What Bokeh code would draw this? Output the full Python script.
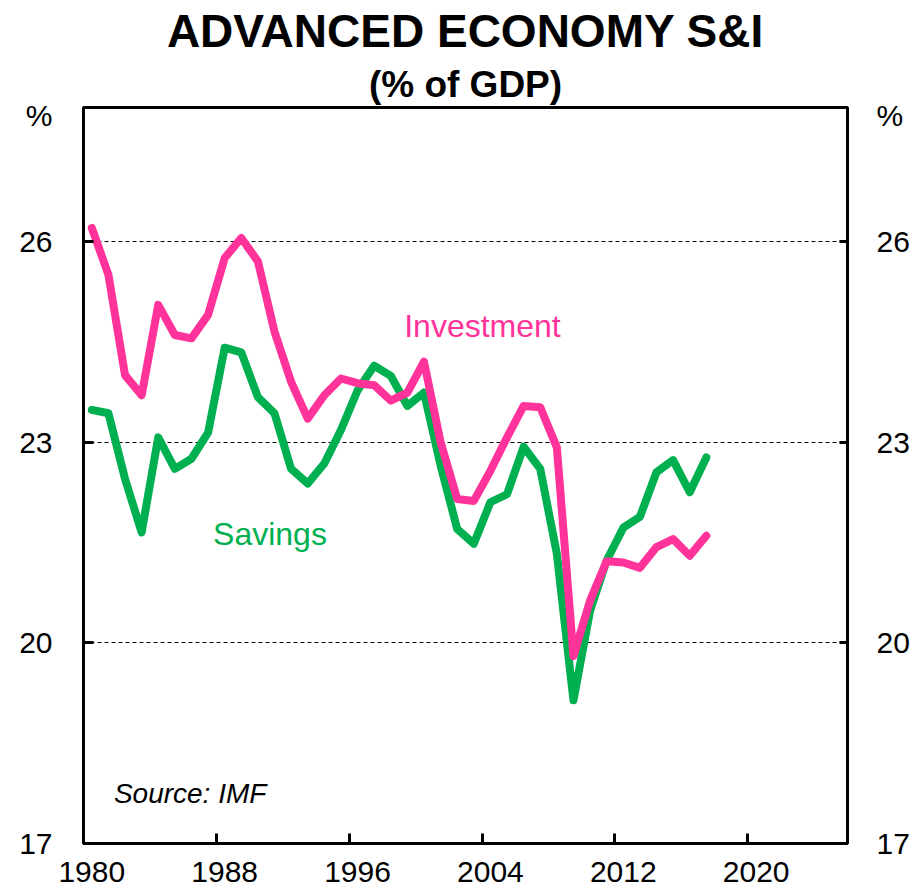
from bokeh.plotting import figure
from bokeh.models import Range1d, LinearAxis, FixedTicker, Title, Label, Grid
from bokeh.embed import file_html
from bokeh.resources import INLINE

# ---- data ----
years = list(range(1980, 2018))
investment = [26.20, 25.50, 24.00, 23.70, 25.05, 24.60, 24.55, 24.90, 25.75, 26.05,
              25.70, 24.65, 23.90, 23.35, 23.70, 23.95, 23.88, 23.85, 23.62, 23.74,
              24.20, 23.00, 22.15, 22.12, 22.57, 23.07, 23.54, 23.52, 22.92, 19.80,
              20.63, 21.22, 21.20, 21.12, 21.43, 21.55, 21.30, 21.60]
savings = [23.48, 23.43, 22.45, 21.65, 23.07, 22.60, 22.75, 23.14, 24.41, 24.34,
           23.67, 23.43, 22.60, 22.38, 22.68, 23.18, 23.77, 24.14, 23.99, 23.54,
           23.74, 22.65, 21.70, 21.48, 22.10, 22.22, 22.93, 22.60, 21.33, 19.14,
           20.48, 21.23, 21.72, 21.88, 22.55, 22.73, 22.25, 22.77]
x_tick_years = [1980, 1988, 1996, 2004, 2012, 2020]
x_tick_labels = ["1980", "1988", "1996", "2004", "2012", "2020"]
y_ticks = [17, 20, 23, 26]
grid_levels = [20, 23, 26]
unit_label = "%"
unit_label_level = 27.88

FONT = "Liberation Sans"
PINK = "#FF3399"
GREEN = "#00B050"
TICK = "black"

# annual values plotted at mid-year
xs = [y + 0.5 for y in years]

p = figure(width=916, height=896, output_backend="svg", toolbar_location=None,
           x_range=Range1d(1980, 2026), y_range=Range1d(17, 28),
           x_axis_location=None, y_axis_location=None, title_location=None,
           min_border_left=83, min_border_right=69, min_border_top=106, min_border_bottom=53)
p.outline_line_color = "black"
p.outline_line_width = 3
p.background_fill_color = "white"
p.border_fill_color = "white"
for g in list(p.grid):
    g.visible = False

# dashed horizontal grid
grid = Grid(dimension=1, ticker=FixedTicker(ticks=grid_levels),
            grid_line_color="black", grid_line_width=1, grid_line_dash="4 3")
p.add_layout(grid)

# bottom axis: labels centred on the year, tick marks at year boundaries
x_axis = LinearAxis(
    ticker=FixedTicker(ticks=[y + 0.5 for y in x_tick_years], minor_ticks=x_tick_years),
    major_label_overrides={y + 0.5: lab for y, lab in zip(x_tick_years, x_tick_labels)},
    axis_line_width=3, axis_line_color="black",
    major_tick_in=0, major_tick_out=0,
    minor_tick_in=10, minor_tick_out=0, minor_tick_line_width=3, minor_tick_line_color=TICK,
    major_label_standoff=18, major_label_text_font=FONT,
    major_label_text_font_size="30px", major_label_text_color="black")
p.add_layout(x_axis, "below")

# left and right axes; "%" unit label sits at the top of each
for side, tin, stand in (("left", 10, 31), ("right", 8, 29)):
    ax = LinearAxis(
        ticker=FixedTicker(ticks=y_ticks + [unit_label_level], minor_ticks=y_ticks),
        major_label_overrides={unit_label_level: unit_label},
        axis_line_width=3, axis_line_color="black",
        major_tick_in=0, major_tick_out=0,
        minor_tick_in=tin, minor_tick_out=0, minor_tick_line_width=3, minor_tick_line_color=TICK,
        major_label_standoff=stand, major_label_text_font=FONT,
        major_label_text_font_size="30px", major_label_text_color="black")
    p.add_layout(ax, side)

# lines
p.line(xs, savings, line_color=GREEN, line_width=8, line_join="round", line_cap="round")
p.line(xs, investment, line_color=PINK, line_width=8, line_join="round", line_cap="round")

# titles
p.add_layout(Title(text="(% of GDP)", align="center", text_font=FONT, text_font_size="37px",
                   text_font_style="bold", text_color="black", standoff=6), "above")
p.add_layout(Title(text="ADVANCED ECONOMY S&I", align="center", text_font=FONT,
                   text_font_size="46px", text_font_style="bold", text_color="black",
                   standoff=4), "above")

# annotations
p.add_layout(Label(x=1999.31, y=24.74, text="Investment", text_align="left",
                   text_baseline="middle", text_font=FONT, text_font_size="32px",
                   text_color=PINK))
p.add_layout(Label(x=1987.8, y=21.63, text="Savings", text_align="left",
                   text_baseline="middle", text_font=FONT, text_font_size="32px",
                   text_color=GREEN))
p.add_layout(Label(x=1981.83, y=17.75, text="Source: IMF", text_align="left",
                   text_baseline="middle", text_font=FONT, text_font_size="28px",
                   text_font_style="italic", text_color="black"))

open("out.html", "w").write(file_html(p, INLINE))
